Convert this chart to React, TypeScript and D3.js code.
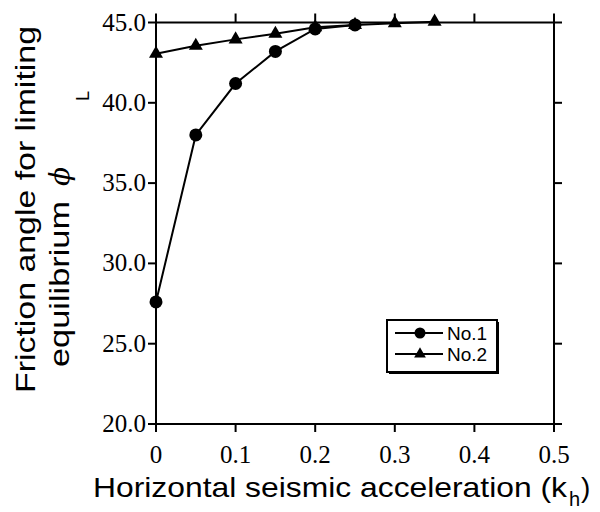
import React from "react";
import * as d3 from "d3";

const khNo1 = [0, 0.05, 0.1, 0.15, 0.2, 0.25];
const phiNo1 = [27.6, 38.0, 41.2, 43.2, 44.6, 44.85];
const khNo2 = [0, 0.05, 0.1, 0.15, 0.2, 0.25, 0.3, 0.35];
const phiNo2 = [43.05, 43.55, 43.95, 44.3, 44.7, 44.85, 44.95, 45.05];
const xTicks = [0, 0.1, 0.2, 0.3, 0.4, 0.5];
const xTickLabels = ["0", "0.1", "0.2", "0.3", "0.4", "0.5"];
const yTicks = [20, 25, 30, 35, 40, 45];
const yTickLabels = ["20.0", "25.0", "30.0", "35.0", "40.0", "45.0"];
const seriesNames = ["No.1", "No.2"];

const W = 600;
const H = 512;

export default function App() {
  const x = d3.scaleLinear().domain([0, 0.5]).range([156, 554]);
  const y = d3.scaleLinear().domain([20, 45]).range([424, 22.5]);
  const line = d3
    .line<[number, number]>()
    .x((d) => x(d[0]))
    .y((d) => y(d[1]));
  const s1: [number, number][] = khNo1.map((k, i) => [k, phiNo1[i]]);
  const s2: [number, number][] = khNo2.map((k, i) => [k, phiNo2[i]]);
  const tri = d3.symbol().type(d3.symbolTriangle).size(85)() as string;
  const triSmall = d3.symbol().type(d3.symbolTriangle).size(60)() as string;

  const [x0, x1] = x.range();
  const [yb, yt] = y.range();
  const tk = 8;
  const serif = "'Liberation Serif', 'Times New Roman', serif";
  const sans = "'Liberation Sans', Arial, Helvetica, sans-serif";

  const legX = 387;
  const legY = 320;
  const legW = 110;
  const legH = 52;

  return (
    <svg
      width={W}
      height={H}
      style={{ position: "absolute", left: 0, top: 0, background: "#fff" }}
    >
      {/* frame */}
      <g stroke="#000" strokeWidth={2} fill="none">
        <line x1={x0} x2={x1} y1={yt} y2={yt} />
        <line x1={x0} x2={x1} y1={yb} y2={yb} />
        <line x1={x0} x2={x0} y1={yt} y2={yb} />
        <line x1={x1} x2={x1} y1={yt} y2={yb} />
        {xTicks.map((t) => (
          <g key={"xt" + t}>
            <line x1={x(t)} x2={x(t)} y1={yt} y2={yt - tk - 1} />
            <line x1={x(t)} x2={x(t)} y1={yb} y2={yb + tk} />
          </g>
        ))}
        {yTicks.map((t) => (
          <g key={"yt" + t}>
            <line x1={x0} x2={x0 - tk} y1={y(t)} y2={y(t)} />
            <line x1={x1} x2={x1 + tk} y1={y(t)} y2={y(t)} />
          </g>
        ))}
      </g>
      {/* tick labels */}
      <g fontFamily={serif} fontSize={25} fill="#000">
        {yTicks.map((t, i) => (
          <text key={"yl" + t} x={x0 - 10} y={y(t) + 8} textAnchor="end">
            {yTickLabels[i]}
          </text>
        ))}
        {xTicks.map((t, i) => (
          <text key={"xl" + t} x={x(t)} y={463} textAnchor="middle">
            {xTickLabels[i]}
          </text>
        ))}
      </g>
      {/* series */}
      <path d={line(s2) || ""} stroke="#000" strokeWidth={2} fill="none" />
      <path d={line(s1) || ""} stroke="#000" strokeWidth={2} fill="none" />
      {s2.map((d, i) => (
        <path
          key={"m2" + i}
          d={tri}
          transform={`translate(${x(d[0])},${y(d[1])})`}
          fill="#000"
        />
      ))}
      {s1.map((d, i) => (
        <circle key={"m1" + i} cx={x(d[0])} cy={y(d[1])} r={6.5} fill="#000" />
      ))}
      {/* legend */}
      <rect x={legX + 2} y={legY + 2} width={legW} height={legH} fill="#000" />
      <rect
        x={legX}
        y={legY}
        width={legW}
        height={legH}
        fill="#fff"
        stroke="#000"
        strokeWidth={2}
      />
      {seriesNames.map((n, i) => {
        const ly = legY + 13 + i * 21;
        return (
          <g key={n}>
            <line x1={legX + 8} x2={legX + 56} y1={ly} y2={ly} stroke="#000" strokeWidth={2} />
            {i === 0 ? (
              <circle cx={legX + 33} cy={ly} r={5.5} fill="#000" />
            ) : (
              <path d={triSmall} transform={`translate(${legX + 33},${ly})`} fill="#000" />
            )}
            <text x={legX + 60} y={ly + 7} fontFamily={sans} fontSize={19} fill="#000">
              {n}
            </text>
          </g>
        );
      })}
      {/* x title */}
      <g fontFamily={sans} fill="#000">
        <text x={93} y={497} fontSize={28} textLength={474} lengthAdjust="spacingAndGlyphs">
          Horizontal seismic acceleration (k
        </text>
        <text x={569} y={506} fontSize={20}>
          h
        </text>
        <text x={581} y={497} fontSize={28}>
          )
        </text>
      </g>
      {/* y title */}
      <g fontFamily={sans} fill="#000">
        <text
          transform="translate(35,393) rotate(-90)"
          fontSize={27}
          textLength={367}
          lengthAdjust="spacingAndGlyphs"
        >
          Friction angle for limiting
        </text>
        <text
          transform="translate(69,367) rotate(-90)"
          fontSize={27}
          textLength={166}
          lengthAdjust="spacingAndGlyphs"
        >
          equilibrium
        </text>
        <text
          transform="translate(69,186) rotate(-90)"
          fontSize={28}
          fontFamily="'DejaVu Serif', serif"
          fontStyle="italic"
        >
          ϕ
        </text>
        <text transform="translate(89,101) rotate(-90)" fontSize={18}>
          L
        </text>
      </g>
    </svg>
  );
}
